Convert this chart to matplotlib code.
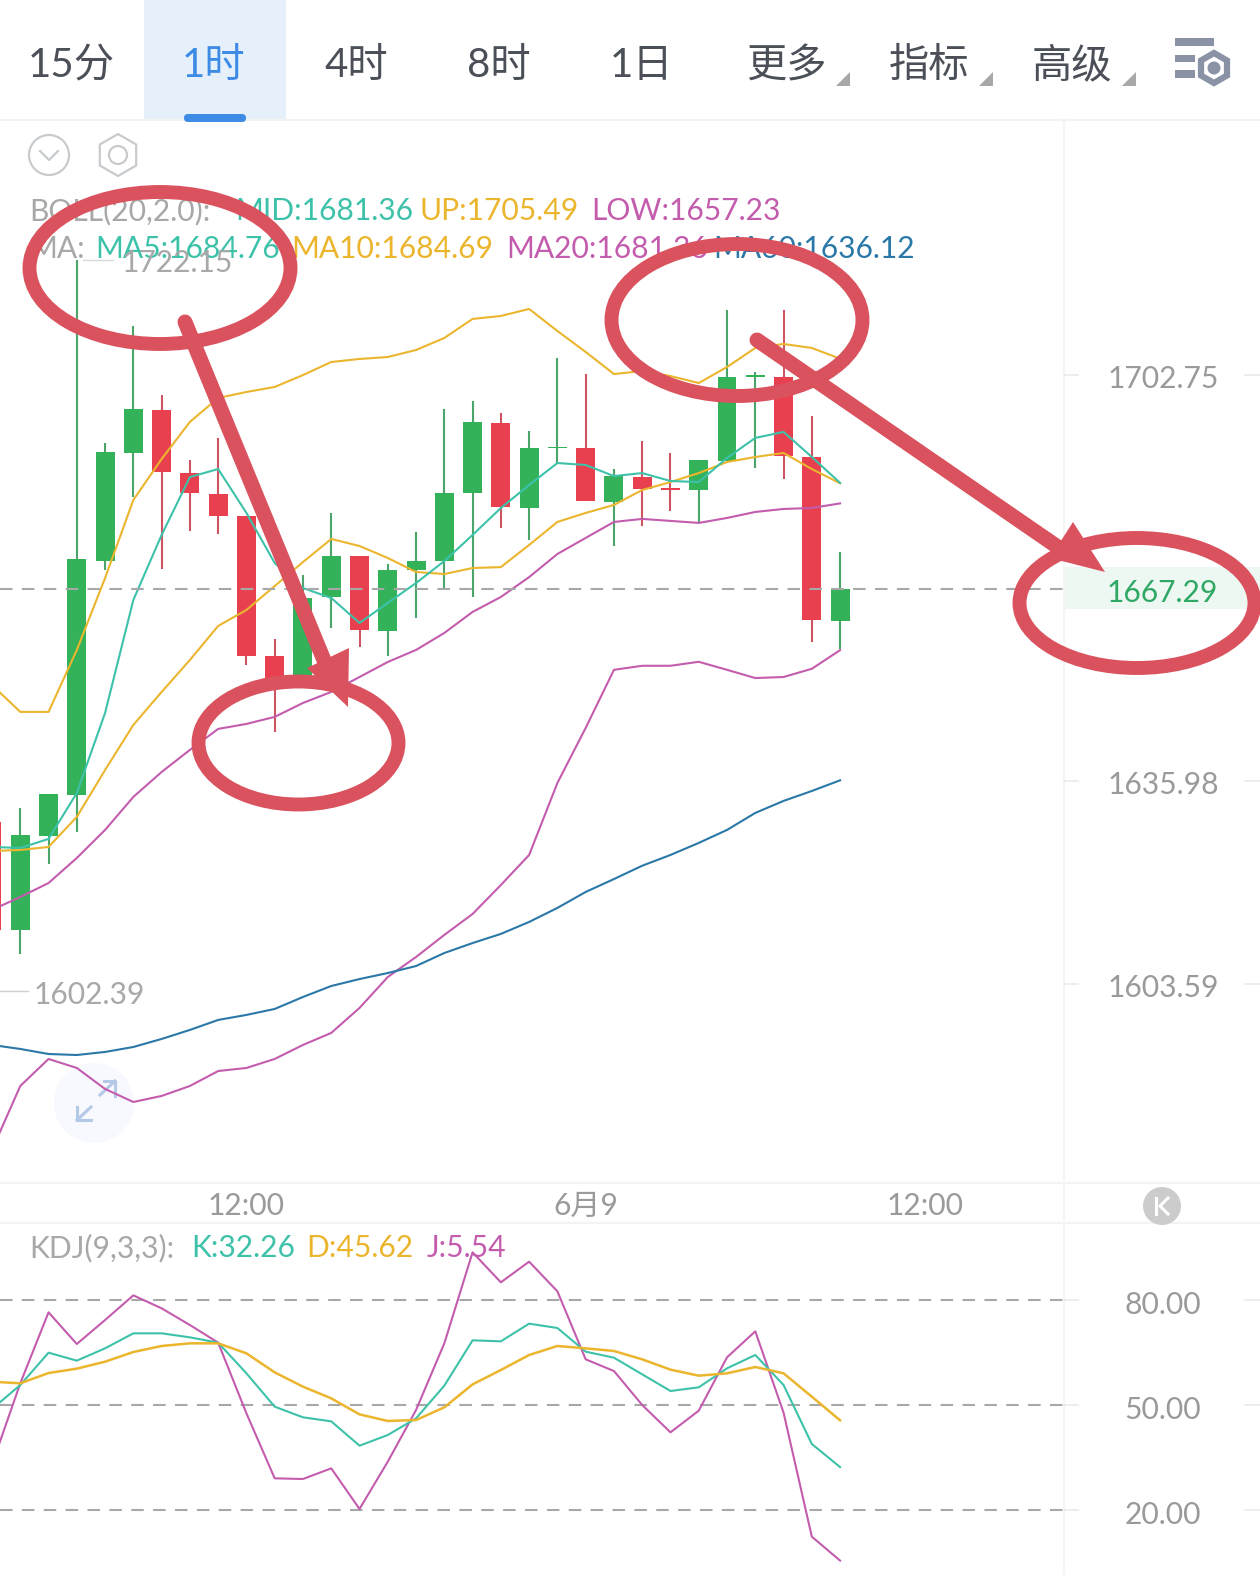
import numpy as np
import matplotlib
matplotlib.use('Agg')
import matplotlib.pyplot as plt
from matplotlib.patches import Ellipse, Rectangle, Circle, Polygon, RegularPolygon, FancyBboxPatch
from matplotlib.transforms import offset_copy

plt.rcParams['font.family'] = ['Noto Sans CJK SC', 'DejaVu Sans']
num_font = ['Lato', 'Noto Sans CJK SC']
label_size = 21.6

############## data ##############
opens = [1629.4, 1612.2, 1627.2, 1633.8, 1671.8, 1689.8, 1696.9, 1686.4, 1682.9, 1679.2, 1656.3,
         1653.0, 1665.9, 1672.7, 1660.4, 1670.4, 1671.8, 1683.1, 1694.7, 1680.6, 1690.5, 1690.6,
         1681.6, 1685.7, 1683.85, 1683.6, 1688.4, 1702.4, 1702.4, 1689.1, 1662.0]
highs = [1629.4, 1631.7, 1633.9, 1722.15, 1691.4, 1711.0, 1699.4, 1688.6, 1692.2, 1679.2, 1659.1,
         1669.5, 1679.8, 1672.7, 1671.3, 1676.6, 1697.1, 1698.4, 1696.4, 1693.4, 1705.6, 1702.9,
         1687.1, 1691.7, 1689.7, 1688.6, 1713.7, 1703.3, 1713.7, 1695.9, 1673.4]
lows = [1612.2, 1608.4, 1622.7, 1627.8, 1670.4, 1682.4, 1670.5, 1676.8, 1676.3, 1654.8, 1644.0,
        1653.0, 1660.9, 1657.8, 1656.3, 1662.5, 1667.2, 1665.9, 1677.3, 1675.3, 1688.1, 1681.8,
        1674.3, 1677.6, 1680.1, 1678.3, 1688.4, 1687.2, 1685.4, 1658.6, 1657.4]
closes = [1612.2, 1627.3, 1633.9, 1672.1, 1689.9, 1697.1, 1686.6, 1683.1, 1679.2, 1656.3, 1652.7,
          1665.8, 1672.7, 1660.5, 1670.4, 1671.8, 1683.1, 1694.9, 1680.8, 1690.6, 1690.8, 1681.8,
          1685.9, 1683.7, 1683.55, 1688.6, 1702.4, 1702.7, 1689.2, 1662.2, 1667.29]

ma5 = [1625.41, 1625.25, 1626.70, 1634.08, 1647.01, 1665.44, 1676.14, 1685.73, 1687.06, 1679.78, 1671.51,
       1667.40, 1665.77, 1661.68, 1664.95, 1668.22, 1671.84, 1676.14, 1680.60, 1684.41, 1688.06, 1687.73,
       1685.89, 1686.39, 1685.07, 1684.90, 1688.90, 1692.24, 1693.24, 1689.06, 1684.76]
ma10 = [1624.77, 1624.93, 1625.41, 1630.23, 1637.78, 1645.07, 1650.42, 1655.62, 1661.19, 1663.80, 1667.73,
        1671.67, 1675.48, 1674.32, 1672.34, 1670.04, 1669.70, 1670.69, 1670.84, 1674.49, 1678.29, 1679.78,
        1681.10, 1683.58, 1684.90, 1686.39, 1688.23, 1689.06, 1689.73, 1687.06, 1684.69]
boll_up = [1651.55, 1647.18, 1647.18, 1657.26, 1669.04, 1681.93, 1688.73, 1694.91, 1698.91, 1699.91, 1700.75,
           1702.75, 1704.94, 1705.45, 1705.78, 1706.96, 1708.98, 1712.19, 1712.69, 1713.87, 1710.16, 1706.63,
           1702.92, 1703.42, 1702.58, 1701.41, 1704.10, 1707.30, 1707.97, 1707.30, 1705.49]
ma20 = [1615.36, 1617.42, 1619.65, 1623.65, 1628.14, 1633.44, 1637.46, 1641.02, 1644.42, 1645.23, 1646.37,
        1648.63, 1650.42, 1652.85, 1655.30, 1657.26, 1660.04, 1663.48, 1665.93, 1669.20, 1673.00, 1675.65,
        1678.29, 1678.79, 1678.46, 1678.13, 1678.95, 1679.94, 1680.44, 1680.60, 1681.36]
boll_low = [1577.62, 1587.59, 1591.82, 1590.41, 1587.12, 1585.09, 1586.03, 1587.59, 1589.93, 1590.41, 1591.82,
            1594.02, 1595.91, 1599.84, 1604.72, 1607.89, 1611.39, 1614.72, 1619.33, 1624.13, 1635.69, 1644.58,
            1654.02, 1654.68, 1654.68, 1655.33, 1654.02, 1652.68, 1652.85, 1654.19, 1657.23]
ma60 = [1594.02, 1593.39, 1592.60, 1592.44, 1592.92, 1593.70, 1594.96, 1596.38, 1597.95, 1598.74, 1599.68,
        1601.57, 1603.30, 1604.40, 1605.35, 1606.46, 1608.52, 1610.10, 1611.55, 1613.45, 1615.68, 1618.22,
        1620.28, 1622.41, 1624.13, 1626.06, 1628.14, 1630.87, 1632.80, 1634.40, 1636.12]

k_line = [48.86, 55.71, 64.95, 62.67, 66.19, 70.48, 70.48, 69.33, 67.81, 59.05, 49.52,
          46.48, 45.33, 38.38, 41.43, 46.19, 55.52, 68.48, 68.19, 73.24, 72.00, 65.24,
          63.52, 58.76, 54.00, 55.05, 60.48, 64.29, 55.71, 38.86, 32.26]
d_line = [56.67, 56.19, 59.14, 60.38, 62.38, 65.14, 66.86, 67.62, 67.62, 64.76, 59.33,
          55.24, 51.90, 47.33, 45.43, 45.71, 49.33, 55.90, 60.00, 64.29, 66.86, 66.19,
          65.43, 63.05, 60.10, 58.38, 59.05, 60.86, 59.05, 52.38, 45.62]
j_line = [33.00, 56.19, 76.48, 67.43, 74.29, 81.33, 77.62, 72.86, 67.81, 47.62, 29.05,
          28.86, 31.90, 20.29, 33.81, 48.57, 67.62, 93.62, 85.05, 90.95, 82.48, 63.05,
          59.71, 50.00, 42.19, 48.38, 63.62, 71.05, 47.81, 12.38, 5.54]

price_ticks = [1702.75, 1635.98, 1603.59]
last_price = 1667.29
kdj_ticks = [80, 50, 20]
time_pos = [9, 21, 33]
time_labels = ['12:00', '6月9', '12:00']
tabs = ['15分', '1时', '4时', '8时', '1日', '更多', '指标', '高级']

# colours
green, red = '#33B25A', '#E8404F'
wick_green, wick_red = '#4BA56B', '#CF5462'
teal, yellow, pink, blue = '#3DC2A9', '#EBB52E', '#C45CAE', '#2A78A8'
gray = '#A8A8A8'
mark = '#D9525E'

W, H = 1260, 1575
fig = plt.figure(figsize=(W / 100, H / 100), dpi=100, facecolor='white')


def px_axes(top, bottom, z):
    ax = fig.add_axes([0, 1 - bottom / H, 1, (bottom - top) / H], zorder=z)
    ax.patch.set_alpha(0)
    for s in ax.spines.values():
        s.set_visible(False)
    return ax


# full figure axes in pixels, one under the chart and one above it
under = px_axes(0, H, 0)
under.set_xlim(0, W)
under.set_ylim(H, 0)
under.axis('off')
over = px_axes(0, H, 5)
over.set_xlim(0, W)
over.set_ylim(H, 0)
over.axis('off')

# ----- header -----
under.add_patch(Rectangle((144, 0), 142, 120, color='#E6F0FB', lw=0))
under.add_patch(FancyBboxPatch((184, 114), 62, 8, boxstyle='round,pad=0,rounding_size=4', color='#3D8BE5', lw=0, zorder=6))
tab_x = [71, 214, 356, 499, 642, 786, 929, 1072]
for x, t in zip(tab_x, tabs):
    c = '#3D8BE5' if t == '1时' else '#4B5058'
    under.text(x, 65.5, t, ha='center', va='center', fontsize=29, color=c, family=num_font if t[0].isdigit() else None)
for x in [850, 993, 1136]:
    under.add_patch(Polygon([(x, 72), (x, 86), (x - 14, 86)], color='#A8A8A8', lw=0))
for y, x1, h in [(38, 1214, 8), (55, 1195, 7), (70, 1195, 8)]:
    under.add_patch(Rectangle((1175, y), x1 - 1175, h, color='#8A93A5', lw=0))
under.add_patch(RegularPolygon((1214, 68), 6, radius=15, fill=False, ec='#8A93A5', lw=4.5))
under.add_patch(Circle((1214, 68), 6.5, color='#8A93A5', lw=0))

# separators
under.plot([0, W], [120, 120], color='#F3F3F3', lw=1.5)
under.plot([0, W], [1183, 1183], color='#F3F3F3', lw=1.5)
under.plot([0, W], [1223, 1223], color='#F3F3F3', lw=1.5)
under.plot([1064, 1064], [120, H], color='#F5F5F5', lw=1.5)

# small round icons
under.add_patch(Circle((49, 155), 20, fill=False, ec='#C8CBCE', lw=1.6))
under.plot([40, 49, 58], [151, 160, 151], color='#C8CBCE', lw=1.6)
under.add_patch(RegularPolygon((118, 155), 6, radius=21, fill=False, ec='#C8CBCE', lw=1.6))
under.add_patch(Circle((118, 155), 9, fill=False, ec='#C8CBCE', lw=1.6))
under.add_patch(Circle((94, 1103), 40, color='#F7F9FE', lw=0))
for xs, ys in [([100, 115], [1095, 1081]), ([104, 115, 115], [1081, 1081, 1096]),
               ([91, 77], [1107, 1120]), ([77, 77, 91], [1107, 1120, 1120])]:
    under.plot(xs, ys, color='#B4C8E8', lw=2.2)

# price tag background and grid stubs
under.add_patch(Rectangle((1064, 567), W - 1064, 42, color='#EEF8F2', lw=0))

# ----- main chart -----
ax = px_axes(120, 1185, 1)
idx = np.arange(len(closes))
ax.set_yscale('log')
ax.set_xlim(8 / 28.27, (W + 8) / 28.27)
ax.set_ylim(1572.18, 1746.07)

o, h, l, c = map(np.array, (opens, highs, lows, closes))
up = c >= o
ax.vlines(idx[up], l[up], h[up], color=wick_green, lw=1.5, zorder=2)
ax.vlines(idx[~up], l[~up], h[~up], color=wick_red, lw=1.5, zorder=2)
bottoms = np.minimum(o, c)
ax.bar(idx, np.abs(c - o), bottom=bottoms, width=0.67, color=[green if u else red for u in up], lw=0, zorder=3)

ax.plot(idx, boll_low, color=pink, lw=1.5, zorder=4)
ax.plot(idx, ma60, color=blue, lw=1.5, zorder=4)
ax.plot(idx, ma20, color=pink, lw=1.5, zorder=4)
ax.plot(idx, boll_up, color=yellow, lw=1.5, zorder=4)
ax.plot(idx, ma10, color=yellow, lw=1.5, zorder=4)
ax.plot(idx, ma5, color=teal, lw=1.5, zorder=4)

ax.axhline(last_price, xmax=1063 / W, color=gray, lw=1.5, dashes=(6, 4.5), zorder=5)

ax.minorticks_off()
ax.set_yticks(price_ticks)
ax.set_yticklabels([])
ax.yaxis.set_minor_locator(matplotlib.ticker.NullLocator())
ax.tick_params(axis='y', length=0)
ax.set_xticks(time_pos)
ax.set_xticklabels(time_labels, fontsize=label_size, color='#9A9A9A', family=num_font)
ax.tick_params(axis='x', length=0, pad=5)
trans = ax.get_yaxis_transform()
trans_txt = offset_copy(trans, fig=fig, y=-4, units='dots')
for v in price_ticks:
    ax.text(1163 / W, v, f'{v:.2f}', transform=trans_txt, ha='center', va='center', fontsize=label_size,
            color='#9A9A9A', family=num_font)
    ax.plot([1064 / W, 1078 / W], [v, v], transform=trans, color='#EAEAEA', lw=1.2)
    ax.plot([1245 / W, 1], [v, v], transform=trans, color='#EAEAEA', lw=1.2)
ax.text(1162 / W, last_price, f'{last_price:.2f}', transform=trans_txt, ha='center', va='center', fontsize=label_size,
        color='#2FA866', family=num_font)

# extreme labels
ax.annotate('1722.15', xy=(122, 263.5), xycoords=under.transData, va='center', ha='left', fontsize=label_size,
            color=gray, family=num_font)
under.plot([83, 113], [260, 260], color='#D8D8D8', lw=1)
ax.annotate('1602.39', xy=(34, 995), xycoords=under.transData, va='center', ha='left', fontsize=label_size,
            color=gray, family=num_font)
under.plot([0, 28], [991, 991], color='#CFCFCF', lw=1)

# legend rows
rows = [(211, [(29, 'BOLL(20,2.0):', gray), (235, 'MID:1681.36', teal), (419, 'UP:1705.49', yellow),
               (591, 'LOW:1657.23', pink)]),
        (249, [(29, 'MA:', gray), (95, 'MA5:1684.76', teal), (291, 'MA10:1684.69', yellow),
               (506, 'MA20:1681.36', pink), (713, 'MA60:1636.12', blue)]),
        (1248, [(29, 'KDJ(9,3,3):', gray), (191, 'K:32.26', teal), (306, 'D:45.62', yellow), (427, 'J:5.54', pink)])]
for y, items in rows:
    for x, t, col in items:
        under.text(x, y, t, ha='left', va='center', fontsize=label_size, color=col, family=num_font)

# ----- KDJ panel -----
ax2 = px_axes(1225, H, 1)
ax2.set_xlim(ax.get_xlim())
ax2.set_ylim(1.43, 101.43)
ax2.plot(idx, j_line, color=pink, lw=1.5, zorder=3)
ax2.plot(idx, k_line, color=teal, lw=1.5, zorder=4)
ax2.plot(idx, d_line, color=yellow, lw=1.8, zorder=5)
ax2.set_xticks([])
ax2.set_yticks([])
trans2 = ax2.get_yaxis_transform()
for v in kdj_ticks:
    ax2.axhline(v, xmax=1063 / W, color=gray, lw=1.5, dashes=(6, 4.5), zorder=2)
    ax2.text(1163 / W, v - 1.4, f'{v:.2f}', transform=trans2, ha='center', va='center', fontsize=label_size,
             color='#9A9A9A', family=num_font)
    ax2.plot([1064 / W, 1078 / W], [v, v], transform=trans2, color='#EAEAEA', lw=1.2)
    ax2.plot([1245 / W, 1], [v, v], transform=trans2, color='#EAEAEA', lw=1.2)

# jump-to-latest button
over.add_patch(Circle((1162, 1206), 19, color='#CCCCCC', lw=0))
over.plot([1156, 1156], [1198, 1214], color='white', lw=2.2)
over.plot([1168, 1160, 1168], [1198, 1206, 1214], color='white', lw=2.2)

# ----- hand drawn marks -----
for cx, cy, w, hh in [(160, 268, 261, 152), (298.5, 743, 200, 123), (737, 320, 251, 152), (1137, 603, 235, 130)]:
    over.add_patch(Ellipse((cx, cy), w, hh, fill=False, ec=mark, lw=10))
over.plot([185, 328], [322, 670], color=mark, lw=10.8, solid_capstyle='round')
over.add_patch(Polygon([(349, 648), (307, 668), (348, 707)], color=mark, lw=0))
over.plot([757, 1065], [340, 552], color=mark, lw=10.8, solid_capstyle='round')
over.add_patch(Polygon([(1073, 522), (1050, 558), (1105, 572)], color=mark, lw=0))

fig.savefig('out.png', dpi=100)
